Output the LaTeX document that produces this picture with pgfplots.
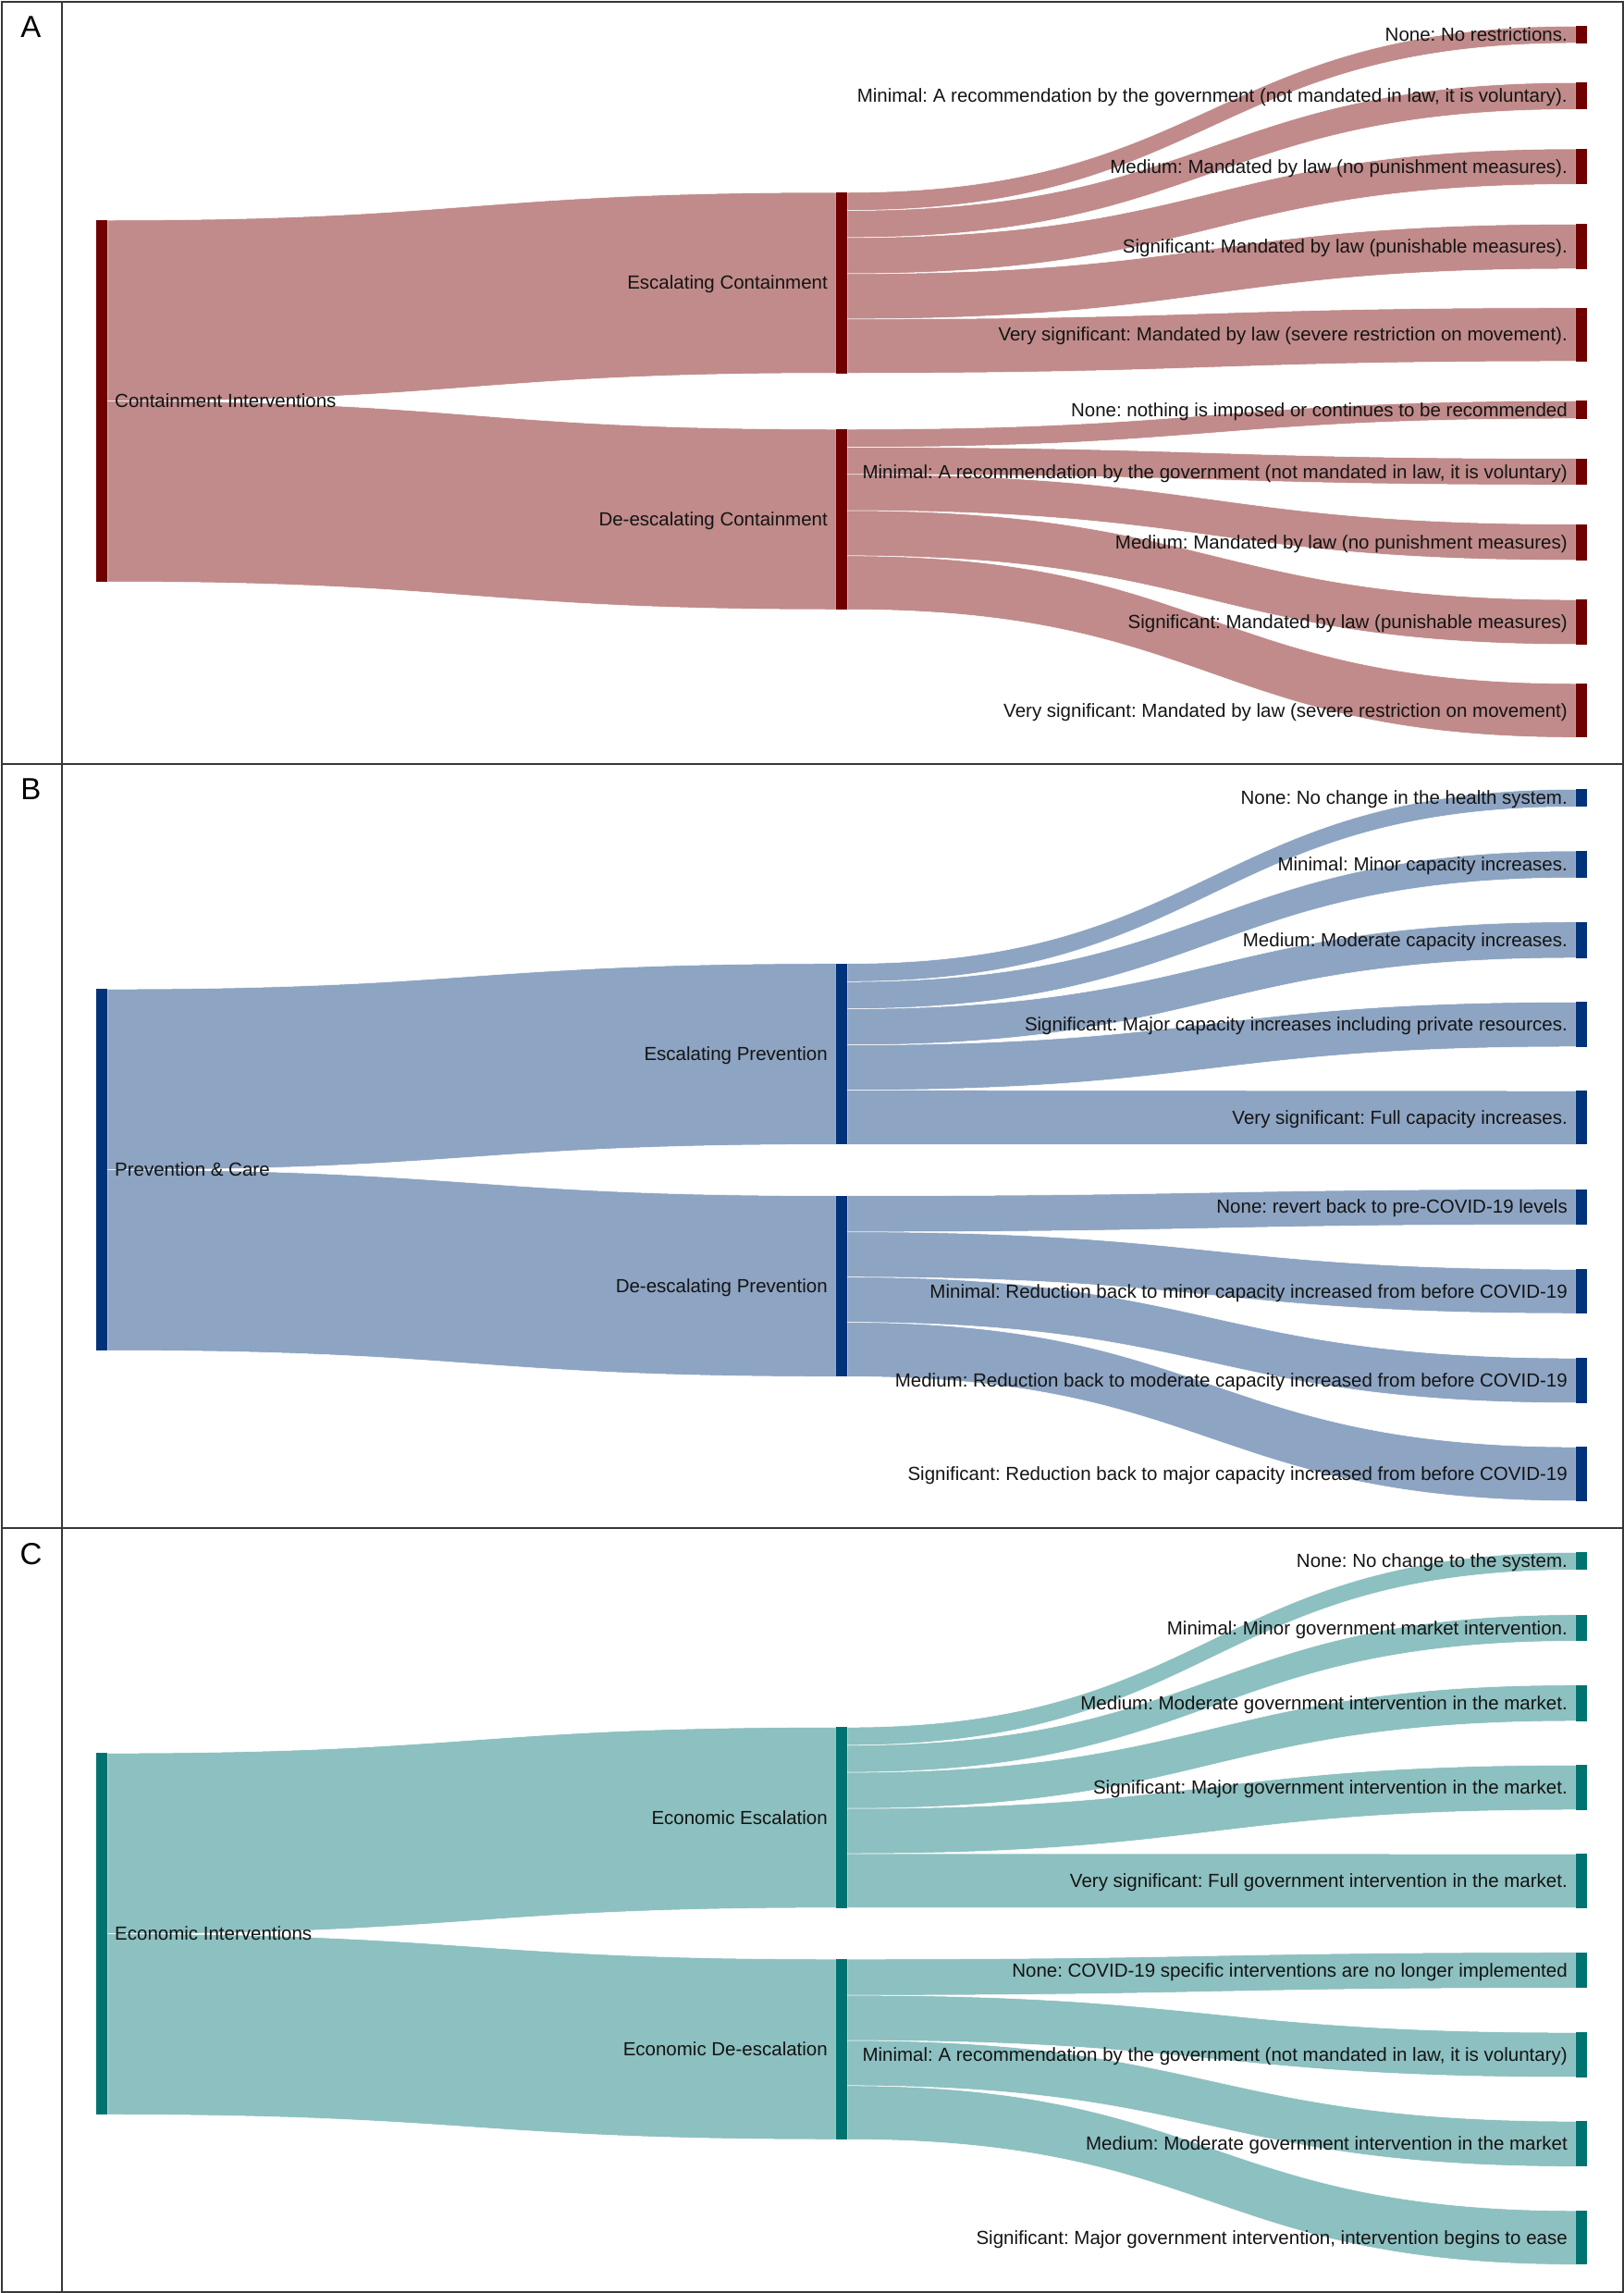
\documentclass[border=0pt]{standalone}
\usepackage{fontspec}
\setmainfont{Liberation Sans}
\usepackage{pgfplots}
\pgfplotsset{compat=1.18}
\frenchspacing
\definecolor{nodeA}{RGB}{112,0,0}
\definecolor{linkA}{RGB}{192,139,138}
\definecolor{nodeB}{RGB}{0,51,122}
\definecolor{linkB}{RGB}{141,164,194}
\definecolor{nodeC}{RGB}{0,115,112}
\definecolor{linkC}{RGB}{141,192,192}
\definecolor{txt}{RGB}{20,20,20}
\definecolor{frame}{RGB}{55,55,55}
\newcommand{\lbl}{\fontsize{20.5}{24}\selectfont\frenchspacing}
% flow: color, x0, x1, xmid, top0, bot0, top1, bot1
\newcommand{\flow}[8]{\addplot[fill=#1, draw=white, line width=0.5pt] coordinates {(#2,#5)} .. controls (#4,#5) and (#4,#7) .. (#3,#7) -- (#3,#8) .. controls (#4,#8) and (#4,#6) .. (#2,#6) -- cycle;}
% node bar: color, x0, x1, top, bottom
\newcommand{\nodebar}[5]{\addplot[fill=#1, draw=none] coordinates {(#2,#4) (#3,#4) (#3,#5) (#2,#5)} -- cycle;}
\newcommand{\rlab}[2]{\node[anchor=base east, yshift=-7.1pt, font=\lbl, text=txt, inner sep=0pt] at (1695,#1) {#2};}
\newcommand{\mlab}[2]{\node[anchor=base east, yshift=-7.1pt, font=\lbl, text=txt, inner sep=0pt] at (895,#1) {#2};}
\newcommand{\slab}[2]{\node[anchor=base west, yshift=-7.1pt, font=\lbl, text=txt, inner sep=0pt] at (124,#1) {#2};}
\newcommand{\panel}[2]{\node[anchor=base, font=\fontsize{33}{38}\selectfont, text=black, inner sep=0pt] at (33.5,#1) {#2};}
\begin{document}
\begin{tikzpicture}
\begin{axis}[x=1pt, y=1pt, xmin=0, xmax=1756, ymin=0, ymax=2479, y dir=reverse,
  hide axis, clip=false]
\addplot[draw=none] coordinates {(0,0) (1756,2479)};
% ---------------- Panel A ----------------
\flow{linkA}{116}{904}{510}{238}{433.5}{208}{403.5}
\flow{linkA}{116}{904}{510}{433.5}{629}{464}{659}
\flow{linkA}{916}{1704}{1310}{208}{227.55}{28.3}{46.7}
\flow{linkA}{916}{1704}{1310}{227.55}{256.85}{89.3}{118.3}
\flow{linkA}{916}{1704}{1310}{256.85}{295.95}{161}{199.3}
\flow{linkA}{916}{1704}{1310}{295.95}{344.85}{242.3}{290.7}
\flow{linkA}{916}{1704}{1310}{344.85}{403.5}{332.7}{390.7}
\flow{linkA}{916}{1704}{1310}{464}{483.5}{433.3}{452.7}
\flow{linkA}{916}{1704}{1310}{483.5}{512.9}{495.7}{524.3}
\flow{linkA}{916}{1704}{1310}{512.9}{552}{566.7}{605.7}
\flow{linkA}{916}{1704}{1310}{552}{600.9}{648.3}{696.7}
\flow{linkA}{916}{1704}{1310}{600.9}{659}{739}{797.3}
\nodebar{nodeA}{104}{116}{238}{629}
\nodebar{nodeA}{904}{916}{208}{403.5}
\nodebar{nodeA}{904}{916}{464}{659}
\nodebar{nodeA}{1704}{1716}{28.3}{46.7}
\nodebar{nodeA}{1704}{1716}{89.3}{118.3}
\nodebar{nodeA}{1704}{1716}{161}{199.3}
\nodebar{nodeA}{1704}{1716}{242.3}{290.7}
\nodebar{nodeA}{1704}{1716}{332.7}{390.7}
\nodebar{nodeA}{1704}{1716}{433.3}{452.7}
\nodebar{nodeA}{1704}{1716}{495.7}{524.3}
\nodebar{nodeA}{1704}{1716}{566.7}{605.7}
\nodebar{nodeA}{1704}{1716}{648.3}{696.7}
\nodebar{nodeA}{1704}{1716}{739}{797.3}
\slab{433.5}{Containment Interventions}
\mlab{305.75}{Escalating Containment}
\mlab{561.5}{De-escalating Containment}
\rlab{37.5}{None: No restrictions.}
\rlab{103.8}{Minimal: A recommendation by the government (not mandated in law, it is voluntary).}
\rlab{180.15}{Medium: Mandated by law (no punishment measures).}
\rlab{266.5}{Significant: Mandated by law (punishable measures).}
\rlab{361.7}{Very significant: Mandated by law (severe restriction on movement).}
\rlab{443}{None: nothing is imposed or continues to be recommended}
\rlab{510}{Minimal: A recommendation by the government (not mandated in law, it is voluntary)}
\rlab{586.2}{Medium: Mandated by law (no punishment measures)}
\rlab{672.5}{Significant: Mandated by law (punishable measures)}
\rlab{768.15}{Very significant: Mandated by law (severe restriction on movement)}
% ---------------- Panel B ----------------
\flow{linkB}{116}{904}{510}{1069.3}{1264.7}{1041.7}{1237.3}
\flow{linkB}{116}{904}{510}{1264.7}{1460}{1292.7}{1488.3}
\flow{linkB}{916}{1704}{1310}{1041.7}{1061.3}{853.3}{872.3}
\flow{linkB}{916}{1704}{1310}{1061.3}{1090.6}{920}{949}
\flow{linkB}{916}{1704}{1310}{1090.6}{1129.7}{996.7}{1035.7}
\flow{linkB}{916}{1704}{1310}{1129.7}{1178.6}{1083.3}{1131.7}
\flow{linkB}{916}{1704}{1310}{1178.6}{1237.3}{1179.3}{1237.3}
\flow{linkB}{916}{1704}{1310}{1292.7}{1331.8}{1285.7}{1324}
\flow{linkB}{916}{1704}{1310}{1331.8}{1380.7}{1372.3}{1420}
\flow{linkB}{916}{1704}{1310}{1380.7}{1429.6}{1468.3}{1516.7}
\flow{linkB}{916}{1704}{1310}{1429.6}{1488.3}{1564.3}{1622.7}
\nodebar{nodeB}{104}{116}{1069.3}{1460}
\nodebar{nodeB}{904}{916}{1041.7}{1237.3}
\nodebar{nodeB}{904}{916}{1292.7}{1488.3}
\nodebar{nodeB}{1704}{1716}{853.3}{872.3}
\nodebar{nodeB}{1704}{1716}{920}{949}
\nodebar{nodeB}{1704}{1716}{996.7}{1035.7}
\nodebar{nodeB}{1704}{1716}{1083.3}{1131.7}
\nodebar{nodeB}{1704}{1716}{1179.3}{1237.3}
\nodebar{nodeB}{1704}{1716}{1285.7}{1324}
\nodebar{nodeB}{1704}{1716}{1372.3}{1420}
\nodebar{nodeB}{1704}{1716}{1468.3}{1516.7}
\nodebar{nodeB}{1704}{1716}{1564.3}{1622.7}
\slab{1264.7}{Prevention \& Care}
\mlab{1139.5}{Escalating Prevention}
\mlab{1390.5}{De-escalating Prevention}
\rlab{862.8}{None: No change in the health system.}
\rlab{934.5}{Minimal: Minor capacity increases.}
\rlab{1016.2}{Medium: Moderate capacity increases.}
\rlab{1107.5}{Significant: Major capacity increases including private resources.}
\rlab{1208.3}{Very significant: Full capacity increases.}
\rlab{1304.85}{None: revert back to pre-COVID-19 levels}
\rlab{1396.15}{Minimal: Reduction back to minor capacity increased from before COVID-19}
\rlab{1492.5}{Medium: Reduction back to moderate capacity increased from before COVID-19}
\rlab{1593.5}{Significant: Reduction back to major capacity increased from before COVID-19}
% ---------------- Panel C ----------------
\flow{linkC}{116}{904}{510}{1895.3}{2090.7}{1867.3}{2062.6}
\flow{linkC}{116}{904}{510}{2090.7}{2286.2}{2118}{2313}
\flow{linkC}{916}{1704}{1310}{1867.3}{1886.8}{1678.3}{1697.3}
\flow{linkC}{916}{1704}{1310}{1886.8}{1916.1}{1745.7}{1774.3}
\flow{linkC}{916}{1704}{1310}{1916.1}{1955.2}{1821.7}{1860.7}
\flow{linkC}{916}{1704}{1310}{1955.2}{2004}{1908.3}{1956.7}
\flow{linkC}{916}{1704}{1310}{2004}{2062.6}{2004.3}{2062.7}
\flow{linkC}{916}{1704}{1310}{2118}{2157.1}{2110.7}{2149.3}
\flow{linkC}{916}{1704}{1310}{2157.1}{2206}{2197.3}{2245.7}
\flow{linkC}{916}{1704}{1310}{2206}{2254.9}{2293.3}{2342.3}
\flow{linkC}{916}{1704}{1310}{2254.9}{2313}{2390}{2448.3}
\nodebar{nodeC}{104}{116}{1895.3}{2286.2}
\nodebar{nodeC}{904}{916}{1867.3}{2062.6}
\nodebar{nodeC}{904}{916}{2118}{2313}
\nodebar{nodeC}{1704}{1716}{1678.3}{1697.3}
\nodebar{nodeC}{1704}{1716}{1745.7}{1774.3}
\nodebar{nodeC}{1704}{1716}{1821.7}{1860.7}
\nodebar{nodeC}{1704}{1716}{1908.3}{1956.7}
\nodebar{nodeC}{1704}{1716}{2004.3}{2062.7}
\nodebar{nodeC}{1704}{1716}{2110.7}{2149.3}
\nodebar{nodeC}{1704}{1716}{2197.3}{2245.7}
\nodebar{nodeC}{1704}{1716}{2293.3}{2342.3}
\nodebar{nodeC}{1704}{1716}{2390}{2448.3}
\slab{2090.7}{Economic Interventions}
\mlab{1964.95}{Economic Escalation}
\mlab{2215.5}{Economic De-escalation}
\rlab{1687.8}{None: No change to the system.}
\rlab{1760}{Minimal: Minor government market intervention.}
\rlab{1841.2}{Medium: Moderate government intervention in the market.}
\rlab{1932.5}{Significant: Major government intervention in the market.}
\rlab{2033.5}{Very significant: Full government intervention in the market.}
\rlab{2130}{None: COVID-19 specific interventions are no longer implemented}
\rlab{2221.5}{Minimal: A recommendation by the government (not mandated in law, it is voluntary)}
\rlab{2317.8}{Medium: Moderate government intervention in the market}
\rlab{2419.15}{Significant: Major government intervention, intervention begins to ease}
% ---------------- frame ----------------
\addplot[draw=frame, line width=2pt] coordinates {(2,1.5) (1754.5,1.5) (1754.5,2477.5) (2,2477.5)} -- cycle;
\addplot[draw=frame, line width=2pt] coordinates {(66.7,1.5) (66.7,2477.5)};
\addplot[draw=frame, line width=2pt] coordinates {(2,826) (1754.5,826)};
\addplot[draw=frame, line width=2pt] coordinates {(2,1652) (1754.5,1652)};
\panel{40.7}{A}
\panel{864.6}{B}
\panel{1691.3}{C}
\end{axis}
\end{tikzpicture}
\end{document}
